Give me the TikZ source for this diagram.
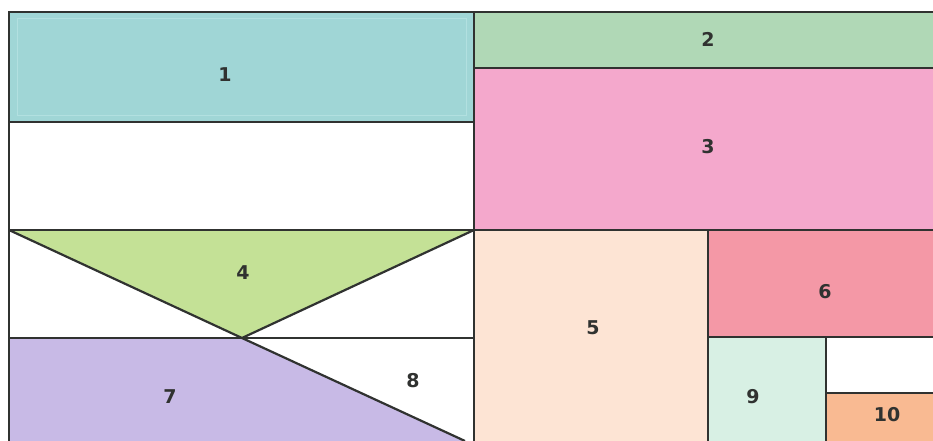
\documentclass[tikz,border=0pt]{standalone}
\usepackage{fontspec}
\setmainfont{DejaVu Sans}
\definecolor{cA}{RGB}{160,214,214}
\definecolor{cAin}{RGB}{178,224,224}
\definecolor{cB}{RGB}{176,216,182}
\definecolor{cC}{RGB}{244,168,204}
\definecolor{cD}{RGB}{196,225,150}
\definecolor{cE}{RGB}{253,228,212}
\definecolor{cF}{RGB}{244,152,166}
\definecolor{cG}{RGB}{200,186,230}
\definecolor{cI}{RGB}{216,240,228}
\definecolor{cJ}{RGB}{249,186,146}
\definecolor{ink}{RGB}{48,50,48}
\begin{document}
\begin{tikzpicture}[x=1pt,y=-1pt,
  edge/.style={draw=ink,line width=2.2pt},
  lab/.style={font=\fontsize{19}{19}\selectfont\bfseries,text=ink,inner sep=0pt}]
\useasboundingbox (0,0) rectangle (933,441);
\fill[white] (0,0) rectangle (933,441);
% fills
\fill[cA] (9,12) rectangle (474,122);
\draw[cAin,line width=1pt] (17,19) rectangle (466,115);
\fill[cB] (474,12) rectangle (933,68);
\fill[cC] (474,68) rectangle (933,230);
\fill[cD] (9,230) -- (474,230) -- (242,338) -- cycle;
\fill[cG] (9,338) -- (242,338) -- (465,441) -- (9,441) -- cycle;
\fill[cE] (474,230) rectangle (708,441);
\fill[cF] (708,230) rectangle (933,337);
\fill[cI] (708,337) rectangle (826,441);
\fill[cJ] (826,393) rectangle (933,441);
% lines
\draw[edge] (9,441) -- (9,12) -- (933,12);
\draw[edge] (474,12) -- (474,441);
\draw[edge] (9,122) -- (474,122);
\draw[edge] (474,68) -- (933,68);
\draw[edge] (9,230) -- (933,230);
\draw[edge] (9,338) -- (474,338);
\draw[edge] (9,230) -- (242,338) -- (474,230);
\draw[edge] (242,338) -- (465,441);
\draw[edge] (708,230) -- (708,441);
\draw[edge] (708,337) -- (933,337);
\draw[edge] (826,337) -- (826,441);
\draw[edge] (826,393) -- (933,393);
% labels
\node[lab] (n1) at (225,75) {1};
\node[lab] (n2) at (708,39) {2};
\node[lab] (n3) at (708,147) {3};
\node[lab] (n4) at (243,273) {4};
\node[lab] (n5) at (593,328) {5};
\node[lab] (n6) at (825,292) {6};
\node[lab] (n7) at (170,397) {7};
\node[lab] (n8) at (413,381) {8};
\node[lab] (n9) at (753,397) {9};
\node[lab] (n10) at (887,415) {10};
\end{tikzpicture}
\end{document}
